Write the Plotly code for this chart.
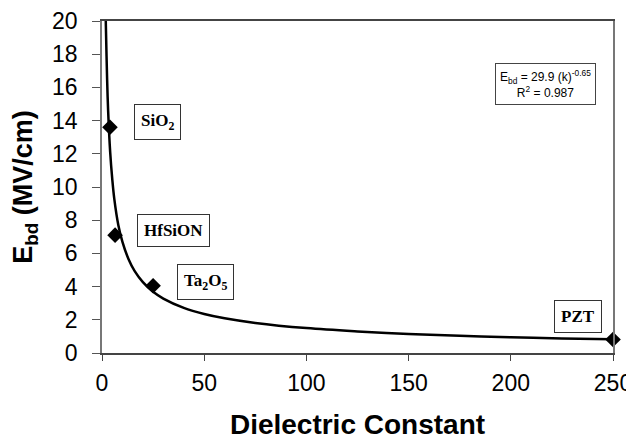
import plotly.graph_objects as go

# Measured dielectrics
materials = ["SiO<sub>2</sub>", "HfSiON", "Ta<sub>2</sub>O<sub>5</sub>", "PZT"]
k_values = [3.9, 6.4, 25, 250]
ebd_values = [13.6, 7.1, 4.05, 0.81]

# Power-law trendline
trend_k = [1.85, 1.9, 2.5, 3, 4, 5, 6, 8, 10, 13, 16, 20, 25, 30, 40, 50, 60, 75, 100, 125, 150, 175, 200, 225, 250]
trend_e = [20.0, 19.7, 16.5, 14.6, 12.1, 10.5, 9.3, 7.7, 6.7, 5.65, 4.93, 4.27, 3.69, 3.28, 2.72, 2.35, 2.09, 1.81, 1.50, 1.30, 1.15, 1.04, 0.95, 0.88, 0.83]

x_ticks = [0, 50, 100, 150, 200, 250]
y_ticks = [0, 2, 4, 6, 8, 10, 12, 14, 16, 18, 20]

# label anchor points (data coords)
label_x = [27, 35, 50.5, 233]
label_y = [13.9, 7.4, 4.3, 2.2]

fig = go.Figure()
fig.add_trace(go.Scatter(x=trend_k, y=trend_e, mode="lines", line=dict(color="black", width=2.5, shape="spline"),
                         showlegend=False, hoverinfo="skip"))
fig.add_trace(go.Scatter(x=k_values, y=ebd_values, mode="markers",
                         marker=dict(symbol="diamond", size=12, color="black"),
                         showlegend=False, cliponaxis=False))

for name, lx, ly in zip(materials, label_x, label_y):
    fig.add_annotation(x=lx, y=ly, text="<b>%s</b>" % name, showarrow=False,
                       font=dict(family="Liberation Serif", size=17, color="black"),
                       bordercolor="#333", borderwidth=1, borderpad=6, bgcolor="white")

fig.add_annotation(x=217, y=16.2, showarrow=False, align="center",
                   text="E<sub>bd</sub> = 29.9 (k)<sup>-0.65</sup><br>R<sup>2</sup> = 0.987",
                   font=dict(family="Liberation Sans", size=12, color="black"),
                   bordercolor="#444", borderwidth=1, borderpad=4, bgcolor="white")

# page body adds an 8px offset, so the figure is sized to fit inside the window
fig.update_layout(
    width=626, height=432,
    margin=dict(l=94, r=21, t=13, b=87),
    paper_bgcolor="white", plot_bgcolor="white",
    font=dict(family="Liberation Sans", color="black"),
    xaxis=dict(range=[0, 250], tickvals=x_ticks, showgrid=False, zeroline=False, automargin=False,
               showline=True, linecolor="#444", linewidth=1.5, mirror=True,
               ticks="outside", ticklen=6, tickcolor="#444",
               tickfont=dict(size=23), ticklabelstandoff=3,
               title=dict(text="<b>Dielectric Constant</b>", font=dict(size=28), standoff=21)),
    yaxis=dict(range=[0, 20], tickvals=y_ticks, showgrid=False, zeroline=False, automargin=False,
               showline=True, linecolor="#777", linewidth=1.5, mirror=True,
               ticks="outside", ticklen=8, tickcolor="#555",
               tickfont=dict(size=23), ticklabelstandoff=10,
               title=dict(text="<b>E<sub>bd</sub> (MV/cm)</b>", font=dict(size=27), standoff=16)),
)

fig.write_html("out.html")
